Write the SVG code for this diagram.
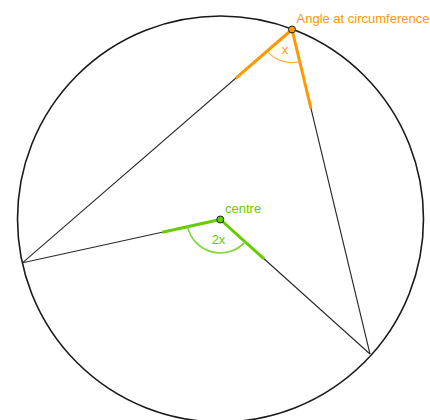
<svg xmlns="http://www.w3.org/2000/svg" width="430" height="420" viewBox="0 0 430 420">
<style>
.circ{fill:none;stroke:#1a1a1a;stroke-width:1.6}
.chord{fill:none;stroke:#2a2a2a;stroke-width:1.1}
.orng{stroke:#ff9900;stroke-width:3;stroke-linecap:butt}
.grn{stroke:#66cc00;stroke-width:3;stroke-linecap:butt}
.oarc{fill:none;stroke:#ffb040;stroke-width:1.3}
.garc{fill:none;stroke:#7fd633;stroke-width:1.6}
.otxt{fill:#ff9900;font-family:"Liberation Sans",Arial,sans-serif;font-size:13px}
.gtxt{fill:#66cc00;font-family:"Liberation Sans",Arial,sans-serif;font-size:13px}
.pt{stroke:#222;stroke-width:1}
</style>
<rect width="430" height="420" fill="#fff"/>
<circle class="circ" cx="220.5" cy="219" r="203"/>
<g id="connectors">
<line class="chord" x1="292" y1="29.5" x2="22.7" y2="262.7"/>
<line class="chord" x1="292" y1="29.5" x2="370" y2="354"/>
<line class="chord" x1="220.3" y1="219.5" x2="22.7" y2="262.7"/>
<line class="chord" x1="220.3" y1="219.5" x2="370" y2="354"/>
<line class="orng" x1="292" y1="29.5" x2="235.7" y2="78.3"/>
<line class="orng" x1="292" y1="29.5" x2="311" y2="108.5"/>
<line class="grn" x1="220.3" y1="219.5" x2="162.3" y2="232.2"/>
<line class="grn" x1="220.3" y1="219.5" x2="264" y2="258.8"/>
</g>
<g id="circumference">
<path class="oarc" d="M267.05 51.1 A33 33 0 0 0 299.7 61.6"/>
<text class="otxt" x="285" y="53.5" text-anchor="middle">x</text>
<circle class="pt" cx="292" cy="29.5" r="3.5" fill="#ff9900"/>
<text class="otxt" x="296.5" y="22.5">Angle at circumference</text>
</g>
<g id="centre">
<path class="garc" d="M187.58 226.65 A33.5 33.5 0 0 0 245.22 241.9"/>
<text class="gtxt" x="218.5" y="243.5" text-anchor="middle">2x</text>
<circle class="pt" cx="220.3" cy="219.5" r="3.5" fill="#66cc00"/>
<text class="gtxt" x="225" y="212.5">centre</text>
</g>
</svg>
